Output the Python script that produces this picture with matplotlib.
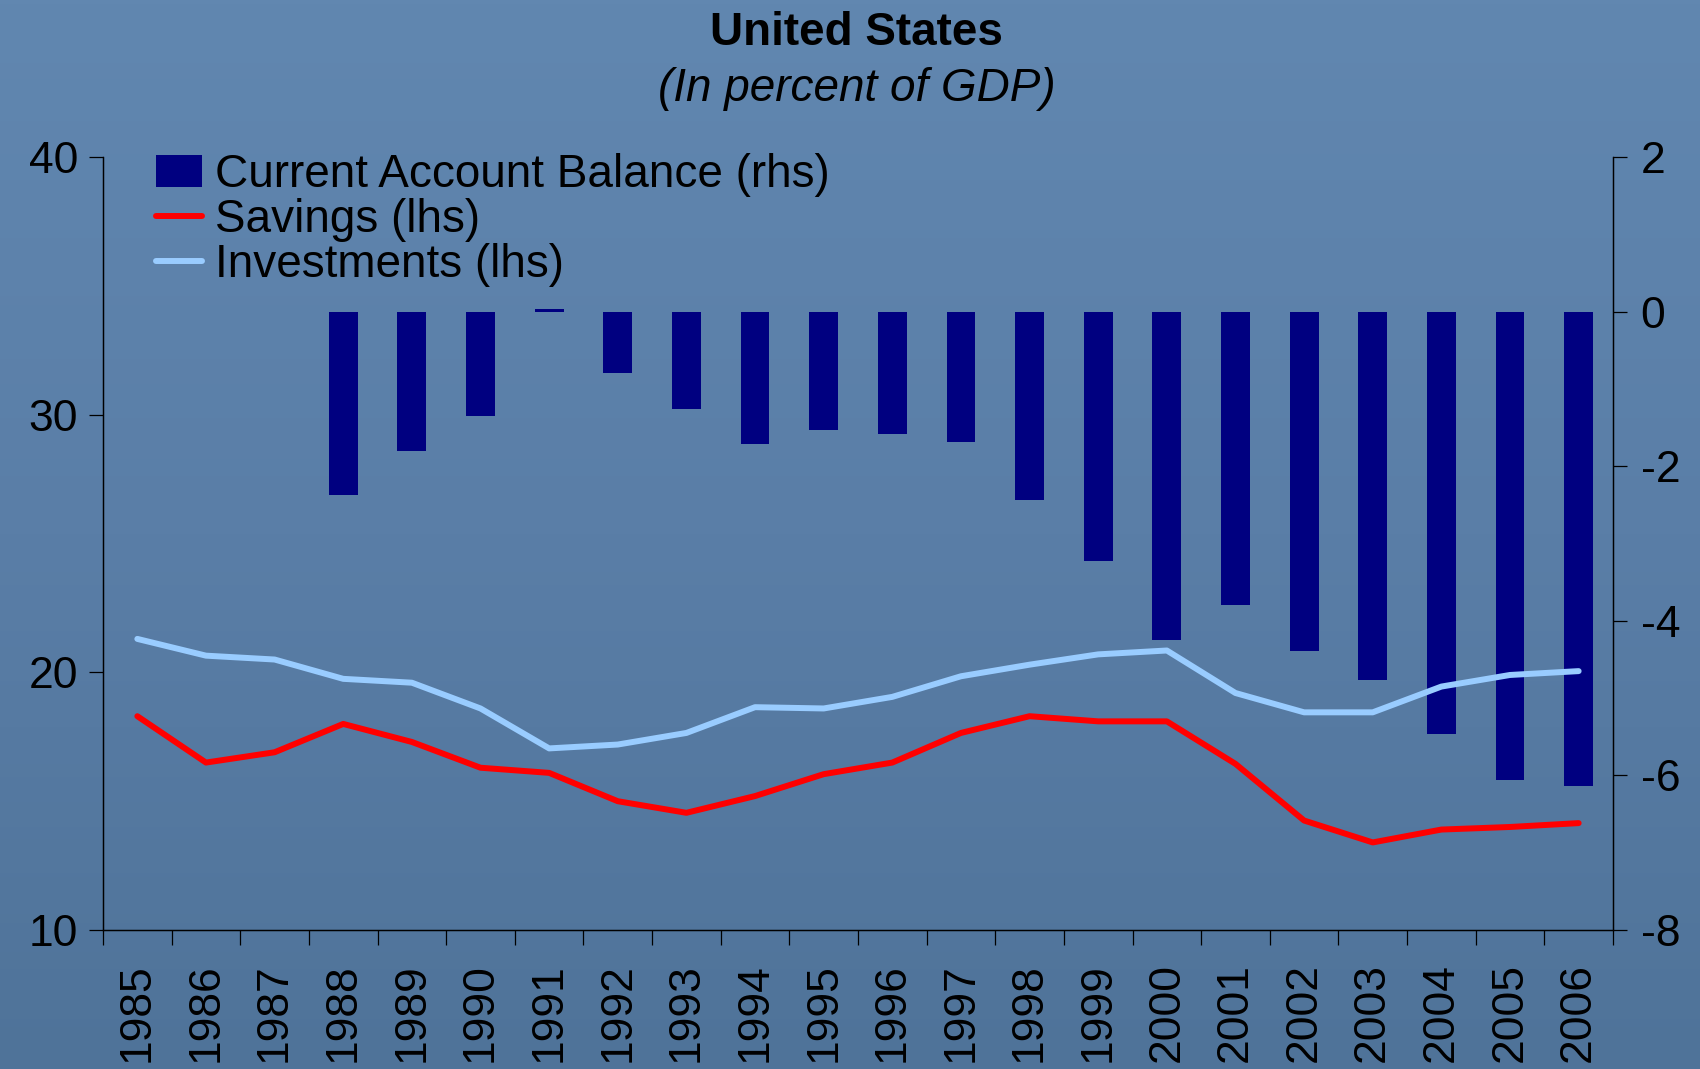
import numpy as np
import matplotlib
matplotlib.use('Agg')
import matplotlib.pyplot as plt
from matplotlib.colors import LinearSegmentedColormap

plt.rcParams['font.family'] = ['Liberation Sans', 'DejaVu Sans']
plt.rcParams['axes.unicode_minus'] = False

# data
years = [str(y) for y in range(1985, 2007)]
savings = [18.3, 16.5, 16.9, 18.0, 17.3, 16.3, 16.1, 15.0, 14.55, 15.2, 16.05, 16.5,
           17.65, 18.3, 18.1, 18.1, 16.45, 14.25, 13.4, 13.9, 14.0, 14.15]
investments = [21.3, 20.65, 20.5, 19.75, 19.6, 18.6, 17.05, 17.2, 17.65, 18.65, 18.6, 19.05,
               19.85, 20.3, 20.7, 20.85, 19.2, 18.45, 18.45, 19.45, 19.9, 20.05]
current_account = [np.nan, np.nan, np.nan, -2.37, -1.8, -1.35, 0.04, -0.79, -1.26, -1.71,
                   -1.53, -1.58, -1.68, -2.43, -3.23, -4.25, -3.79, -4.39, -4.77, -5.47,
                   -6.06, -6.14]

fig = plt.figure(figsize=(17, 10.69), dpi=100)

# background
bg = fig.add_axes([0, 0, 1, 1], zorder=-10)
cmap = LinearSegmentedColormap.from_list('bg', ['#6187b0', '#5a7ea7', '#4f7399'])
bg.imshow(np.linspace(0, 1, 256).reshape(-1, 1), aspect='auto', cmap=cmap,
          extent=[0, 1, 0, 1])
bg.axis('off')

x = np.arange(len(years))

ax = fig.add_axes([0.0606, 0.130, 0.8882, 0.723])
ax2 = ax.twinx()
ax.set_zorder(ax2.get_zorder() + 1)
ax.patch.set_visible(False)
ax2.patch.set_visible(False)

bars = ax2.bar(x, current_account, width=0.42, color='#000080', label='Current Account Balance (rhs)')
l1, = ax.plot(x, savings, color='#ff0000', lw=4.3, solid_capstyle='round', label='Savings (lhs)')
l2, = ax.plot(x, investments, color='#99ccff', lw=4.3, solid_capstyle='round', label='Investments (lhs)')

ax.set_xlim(-0.5, len(years) - 0.5)
ax.set_ylim(10, 40)
ax.set_yticks([10, 20, 30, 40])
ax2.set_ylim(-8, 2)
ax2.set_yticks([-8, -6, -4, -2, 0, 2])

ax.set_xticks(x)
ax.set_xticklabels(years, rotation=90, fontsize=32)
ax.set_xticks(np.arange(-0.5, len(years)), minor=True)
ax.tick_params(axis='x', which='major', length=0, pad=24)
ax.tick_params(axis='x', which='minor', length=11, width=0.9, direction='out')
ax.tick_params(axis='y', labelsize=32, length=10, width=0.9, pad=8)
ax2.tick_params(axis='y', labelsize=32, length=10, width=0.9, pad=10)

for a in (ax, ax2):
    a.spines['top'].set_visible(False)
    for s in a.spines.values():
        s.set_linewidth(0.9)
        s.set_color('black')

ax.legend(handles=[bars, l1, l2], loc='upper left', bbox_to_anchor=(0.092, 0.857),
          bbox_transform=fig.transFigure, frameon=False, fontsize=33,
          handlelength=1.0, handletextpad=0.28, labelspacing=0.02, borderpad=0,
          borderaxespad=0)

fig.text(0.504, 0.969, 'United States', ha='center', va='center',
         fontsize=33, fontweight='bold')
fig.text(0.504, 0.917, '(In percent of GDP)', ha='center', va='center',
         fontsize=33, fontstyle='italic')

fig.savefig('out.png', dpi=100)
